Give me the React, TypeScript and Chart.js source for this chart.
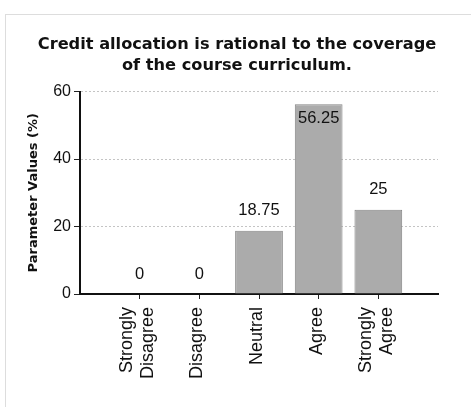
import React, { useEffect, useRef } from 'react';
import { Chart, registerables } from 'chart.js';

Chart.register(...registerables);

const categories: (string | string[])[] = [['Strongly', 'Disagree'], 'Disagree', 'Neutral', 'Agree', ['Strongly', 'Agree']];
const values: number[] = [0, 0, 18.75, 56.25, 25];
const yTicks: number[] = [0, 20, 40, 60];
const titleLines: string[] = ['Credit allocation is rational to the coverage', 'of the course curriculum.'];
const yTitle = 'Parameter Values (%)';

const SANS = '"Liberation Sans", Arial, sans-serif';
const DEJA = '"DejaVu Sans", Verdana, sans-serif';

export default function App() {
  const ref = useRef<HTMLCanvasElement | null>(null);

  useEffect(() => {
    if (!ref.current) return;
    const labels = ['', ...categories, ''];
    const data = [null, ...values, null];

    const dataLabels = {
      id: 'dataLabels',
      afterDatasetsDraw(chart: any) {
        const ctx = chart.ctx;
        const meta = chart.getDatasetMeta(0);
        ctx.save();
        ctx.font = `16.5px ${SANS}`;
        ctx.fillStyle = '#111';
        ctx.textAlign = 'center';
        ctx.textBaseline = 'middle';
        meta.data.forEach((bar: any, i: number) => {
          const v = data[i];
          if (v == null) return;
          let y = bar.y - 20;
          if (y - 9 < chart.chartArea.top) y = bar.y + 14;
          ctx.fillText(String(v), bar.x, y);
        });
        ctx.restore();
      },
    };

    const xLabels = {
      id: 'xLabels',
      afterDraw(chart: any) {
        const ctx = chart.ctx;
        const xs = chart.scales.x;
        ctx.save();
        ctx.font = `18px ${SANS}`;
        ctx.fillStyle = '#111';
        ctx.textAlign = 'right';
        ctx.textBaseline = 'middle';
        labels.forEach((lab, i) => {
          if (lab === '') return;
          const lines = Array.isArray(lab) ? lab : [lab];
          const x = xs.getPixelForValue(i);
          const y = chart.chartArea.bottom + 13;
          ctx.save();
          ctx.translate(x, y);
          ctx.rotate(-Math.PI / 2);
          lines.forEach((ln, j) => {
            ctx.fillText(ln, 0, (j - (lines.length - 1) / 2) * 21 - 2);
          });
          ctx.restore();
        });
        ctx.restore();
      },
    };

    const chart = new Chart(ref.current, {
      type: 'bar',
      data: {
        labels,
        datasets: [
          {
            data,
            backgroundColor: '#ababab',
            borderColor: '#858585',
            borderWidth: 1,
            barPercentage: 0.8,
            categoryPercentage: 1,
          },
        ],
      },
      options: {
        animation: false,
        responsive: false,
        maintainAspectRatio: false,
        layout: { padding: { left: 18, right: 15, top: 0, bottom: 0 } },
        plugins: {
          legend: { display: false },
          tooltip: { enabled: false },
          title: {
            display: true,
            text: titleLines,
            color: '#111',
            font: { family: DEJA, size: 16.2, weight: 'bold', lineHeight: 1.25 },
            padding: { top: 35, bottom: 16 },
          },
        },
        scales: {
          x: {
            offset: false,
            grid: {
              offset: false,
              drawOnChartArea: false,
              drawTicks: true,
              tickLength: 5,
              tickColor: (c: any) => (c.index === 0 || c.index === labels.length - 1 ? 'rgba(0,0,0,0)' : '#222'),
            },
            border: { display: true, color: '#111', width: 2 },
            ticks: { display: false, autoSkip: false },
            afterFit: (s: any) => {
              s.height = 113;
            },
          },
          y: {
            min: 0,
            max: 60,
            afterBuildTicks: (s: any) => {
              s.ticks = yTicks.map((v) => ({ value: v }));
            },
            grid: {
              color: '#c4c4c4',
              lineWidth: 1,
              drawTicks: true,
              tickLength: 6,
              tickColor: '#222',
              tickBorderDash: [],
            },
            border: { display: true, color: '#111', width: 2, dash: [2, 2] },
            ticks: {
              color: '#111',
              padding: 3,
              font: { family: SANS, size: 16 },
            },
            title: {
              display: true,
              text: yTitle,
              color: '#111',
              font: { family: DEJA, size: 13, weight: 'bold' },
              padding: { top: 8, bottom: 0 },
            },
            afterFit: (s: any) => {
              s.width = 62;
            },
          },
          yRightSpacer: {
            type: 'linear',
            position: 'right',
            display: true,
            grid: { display: false, drawTicks: false },
            border: { display: false },
            ticks: { display: false },
            afterFit: (s: any) => {
              s.width = 18;
            },
          },
        },
      },
      plugins: [dataLabels, xLabels],
    });
    return () => chart.destroy();
  }, []);

  return (
    <div style={{ position: 'absolute', left: 0, top: 0, width: 471, height: 407, background: '#fff' }}>
      <div
        style={{
          position: 'absolute',
          left: 5,
          top: 14,
          width: 466,
          height: 393,
          borderTop: '1px solid #dddddd',
          borderLeft: '1px solid #dddddd',
        }}
      />
      <canvas ref={ref} width={471} height={407} style={{ position: 'absolute', left: 0, top: 0 }} />
    </div>
  );
}
